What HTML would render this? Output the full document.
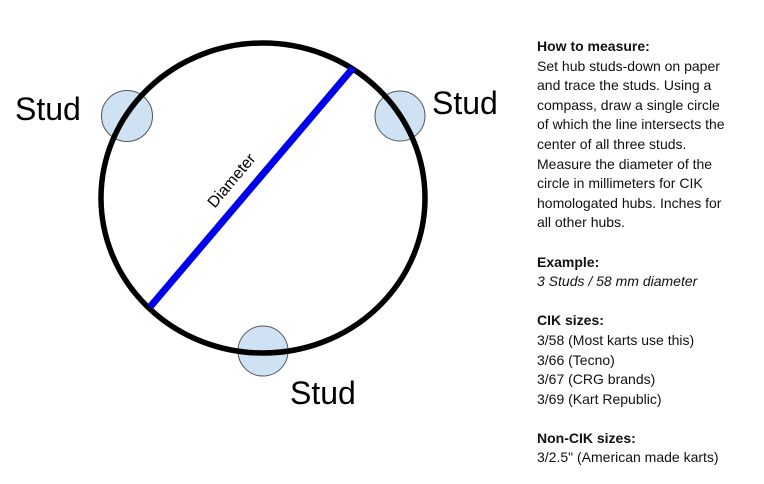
<!DOCTYPE html>
<html><head><style>
html,body{margin:0;padding:0;background:#fff;}
body{width:764px;height:484px;position:relative;overflow:hidden;font-family:"Liberation Sans",Arial,sans-serif;}
.txt{position:absolute;left:537px;top:37px;font-size:14px;line-height:19.6px;color:#111;white-space:pre;}
b{font-weight:bold;}
</style></head><body>
<svg width="764" height="484" style="position:absolute;left:0;top:0">
<circle cx="127" cy="116" r="25.5" fill="#cfe2f3" stroke="#555" stroke-width="1"/>
<circle cx="400" cy="116" r="25" fill="#cfe2f3" stroke="#555" stroke-width="1"/>
<circle cx="263" cy="351" r="25" fill="#cfe2f3" stroke="#555" stroke-width="1"/>
<ellipse cx="263" cy="198" rx="162" ry="155" fill="none" stroke="#000" stroke-width="5.5"/>
<line x1="353" y1="68" x2="150" y2="307" stroke="#0000ee" stroke-width="7"/>
<text x="231" y="186" font-family="Liberation Sans, Arial, sans-serif" font-size="16" text-anchor="middle" transform="rotate(-50 231 180)">Diameter</text>
<text x="15" y="120" font-family="Liberation Sans, Arial, sans-serif" font-size="32">Stud</text>
<text x="432" y="114" font-family="Liberation Sans, Arial, sans-serif" font-size="32">Stud</text>
<text x="290" y="404" font-family="Liberation Sans, Arial, sans-serif" font-size="32">Stud</text>
</svg>
<div class="txt"><b>How to measure:</b>
Set hub studs-down on paper
and trace the studs. Using a
compass, draw a single circle
of which the line intersects the
center of all three studs.
Measure the diameter of the
circle in millimeters for CIK
homologated hubs. Inches for
all other hubs.

<b>Example:</b>
<i>3 Studs / 58 mm diameter</i>

<b>CIK sizes:</b>
3/58 (Most karts use this)
3/66 (Tecno)
3/67 (CRG brands)
3/69 (Kart Republic)

<b>Non-CIK sizes:</b>
3/2.5" (American made karts)</div>
</body></html>
